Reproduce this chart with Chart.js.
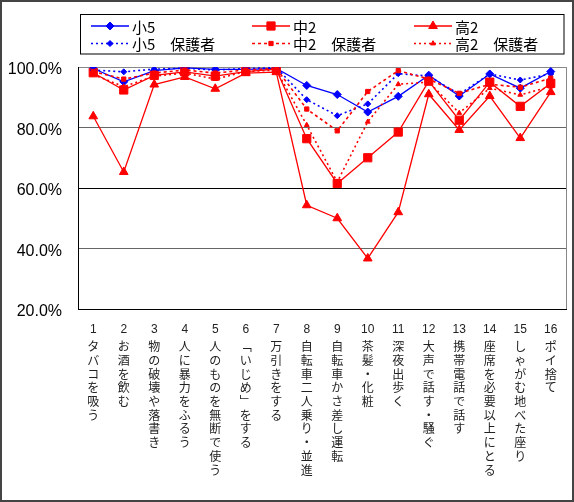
<!DOCTYPE html>
<html><head><meta charset="utf-8">
<script src="https://cdn.jsdelivr.net/npm/chart.js@4"></script>
<style>html,body{margin:0;padding:0;background:#fff}canvas{display:block}</style>
</head><body>
<canvas id="c" width="574" height="502"></canvas>
<script>
const categories = ['1','2','3','4','5','6','7','8','9','10','11','12','13','14','15','16'];
const itemLabels = ['タバコを吸う','お酒を飲む','物の破壊や落書き','人に暴力をふるう','人のものを無断で使う','﹁いじめ﹂をする','万引きをする','自転車二人乗り・並進','自転車かさ差し運転','茶髪・化粧','深夜出歩く','大声で話す・騒ぐ','携帯電話で話す','座席を必要以上にとる','しゃがむ地べた座り','ポイ捨て'];
const yTicks = [20, 40, 60, 80, 100];
const seriesNames = ['小5','中2','高2','小5　保護者','中2　保護者','高2　保護者'];
const sho5   = [99.5, 95.1, 98.8, 99.7, 99.2, 99.2, 99.5, 93.9, 90.9, 85.1, 90.3, 97.3, 90.4, 97.7, 93.0, 98.5];
const chu2   = [98.1, 92.4, 97.2, 98.4, 97.0, 98.5, 99.3, 76.3, 61.5, 70.0, 78.5, 95.3, 82.4, 95.0, 87.0, 94.6];
const kou2   = [83.7, 65.3, 94.2, 96.7, 92.8, 98.0, 98.3, 54.3, 50.0, 36.7, 52.0, 91.0, 79.2, 90.4, 76.5, 91.7];
const sho5P  = [99.0, 98.4, 99.3, 99.6, 99.0, 99.5, 99.8, 89.2, 83.9, 87.8, 97.8, 97.0, 91.0, 97.7, 95.7, 97.7];
const chu2P  = [98.5, 96.0, 98.0, 99.0, 98.0, 99.0, 99.5, 86.1, 78.9, 91.9, 98.8, 96.0, 91.3, 94.3, 93.3, 96.3];
const kou2P  = [97.5, 93.5, 97.0, 98.0, 96.0, 98.5, 99.0, 80.8, 62.0, 81.9, 94.3, 95.0, 84.8, 93.0, 90.8, 93.5];

const BLUE = '#0000FF', RED = '#FF0000';
function mk(label, data, color, style, r, dash, order) {
  return {label, data, borderColor: color, backgroundColor: color,
    pointBackgroundColor: color, pointBorderColor: color, pointStyle: style,
    pointRadius: r, pointBorderWidth: 1, borderWidth: dash ? 1.6 : 1.3,
    borderDash: dash || [], tension: 0, fill: false, order};
}
const datasets = [
  mk(seriesNames[0], sho5, BLUE, 'rectRot', 4, null, 6),
  mk(seriesNames[1], chu2, RED, 'rect', 5.8, null, 5),
  mk(seriesNames[2], kou2, RED, 'triangle', 5, null, 4),
  mk(seriesNames[3], sho5P, BLUE, 'rectRot', 3, [2,3], 3),
  mk(seriesNames[4], chu2P, RED, 'rect', 3, [3,3], 2),
  mk(seriesNames[5], kou2P, RED, 'triangle', 2.8, [2,3], 1)
];

function marker(ctx, style, r, x, y) {
  if (Chart.helpers && Chart.helpers.drawPoint) {
    Chart.helpers.drawPoint(ctx, {pointStyle: style, radius: r, borderWidth: 1, rotation: 0}, x, y);
    return;
  }
  ctx.beginPath();
  if (style === 'rectRot') { ctx.moveTo(x, y - r); ctx.lineTo(x + r, y); ctx.lineTo(x, y + r); ctx.lineTo(x - r, y); }
  else if (style === 'rect') { const s = r * Math.SQRT1_2; ctx.rect(x - s, y - s, 2 * s, 2 * s); }
  else { ctx.moveTo(x, y - r); ctx.lineTo(x + r * 0.866, y + r * 0.5); ctx.lineTo(x - r * 0.866, y + r * 0.5); }
  ctx.closePath(); ctx.fill(); ctx.stroke();
}

const framePlugin = {
  id: 'frame',
  beforeDraw(chart) {
    const ctx = chart.ctx;
    ctx.save(); ctx.fillStyle = '#fff'; ctx.fillRect(0, 0, chart.width, chart.height); ctx.restore();
  },
  beforeDatasetsDraw(chart) {
    const ctx = chart.ctx, a = chart.chartArea;
    ctx.save();
    ctx.strokeStyle = '#888'; ctx.lineWidth = 1;
    ctx.beginPath(); ctx.moveTo(Math.round(a.right) + 0.5, a.top); ctx.lineTo(Math.round(a.right) + 0.5, a.bottom); ctx.stroke();
    ctx.restore();
  },
  afterDraw(chart) {
    const ctx = chart.ctx;
    ctx.save();
    ctx.strokeStyle = '#444'; ctx.lineWidth = 2;
    ctx.strokeRect(1, 1, chart.width - 2, chart.height - 2);
    ctx.strokeStyle = '#000'; ctx.lineWidth = 1;
    ctx.strokeRect(80.5, 14.5, 483.5, 39.5);
    const cols = [91, 252, 414], rows = [26, 43.5];
    chart.data.datasets.forEach((ds, i) => {
      const x0 = cols[i % 3], x1 = x0 + 38, y = rows[Math.floor(i / 3)];
      ctx.beginPath(); ctx.setLineDash(ds.borderDash); ctx.strokeStyle = ds.borderColor; ctx.lineWidth = ds.borderWidth;
      ctx.moveTo(x0, y); ctx.lineTo(x1, y); ctx.stroke(); ctx.setLineDash([]);
      ctx.fillStyle = ds.pointBackgroundColor; ctx.strokeStyle = ds.pointBorderColor; ctx.lineWidth = 1;
      marker(ctx, ds.pointStyle, ds.pointRadius, (x0 + x1) / 2, y);
      ctx.fillStyle = '#000'; ctx.font = '15px "Noto Sans CJK JP"'; ctx.textBaseline = 'middle'; ctx.textAlign = 'left';
      ctx.fillText(ds.label, x1 + 3, y + 1);
    });
    ctx.restore();
  }
};

function gridColor(ctx) {
  const v = ctx.tick && ctx.tick.value;
  if (v === 100) return '#888';
  if (v === 60) return '#000';
  if (v === 20) return '#000';
  return '#666';
}

new Chart(document.getElementById('c'), {
  type: 'line',
  data: { labels: categories, datasets },
  options: {
    responsive: false, animation: false, devicePixelRatio: 1,
    layout: { padding: { top: 67, right: 8, left: 0, bottom: 0 } },
    plugins: { legend: { display: false }, tooltip: { enabled: false } },
    scales: {
      x: {
        type: 'category', offset: true, position: 'bottom',
        grid: { display: false, drawTicks: false, offset: true },
        border: { display: true, color: '#000', width: 1 },
        ticks: { autoSkip: false, maxRotation: 0, minRotation: 0, padding: 13, color: '#222',
          font: { family: '"Liberation Sans", Arial, sans-serif', size: 12 } },
        afterFit: s => { s.height = 30; }
      },
      x2: {
        type: 'category', offset: true, position: 'bottom',
        labels: itemLabels.map(s => Array.from(s)),
        grid: { display: false, drawTicks: false },
        border: { display: false },
        ticks: { autoSkip: false, maxRotation: 0, minRotation: 0, padding: 1, color: '#222',
          font: { family: '"Noto Sans CJK JP", sans-serif', size: 12, lineHeight: 1.14 } },
        afterFit: s => { s.height = 163; }
      },
      y: {
        min: yTicks[0], max: yTicks[yTicks.length - 1],
        afterBuildTicks: s => { s.ticks = yTicks.map(v => ({ value: v })); },
        grid: { color: gridColor, lineWidth: 1, drawTicks: false },
        border: { display: true, color: '#000', width: 1 },
        ticks: { padding: 16, labelOffset: 3, color: '#000',
          font: { family: '"Liberation Sans", Arial, sans-serif', size: 16 },
          callback: v => v.toFixed(1) + '%' },
        afterFit: s => { s.width = 78; }
      }
    }
  },
  plugins: [framePlugin]
});
</script>
</body></html>
